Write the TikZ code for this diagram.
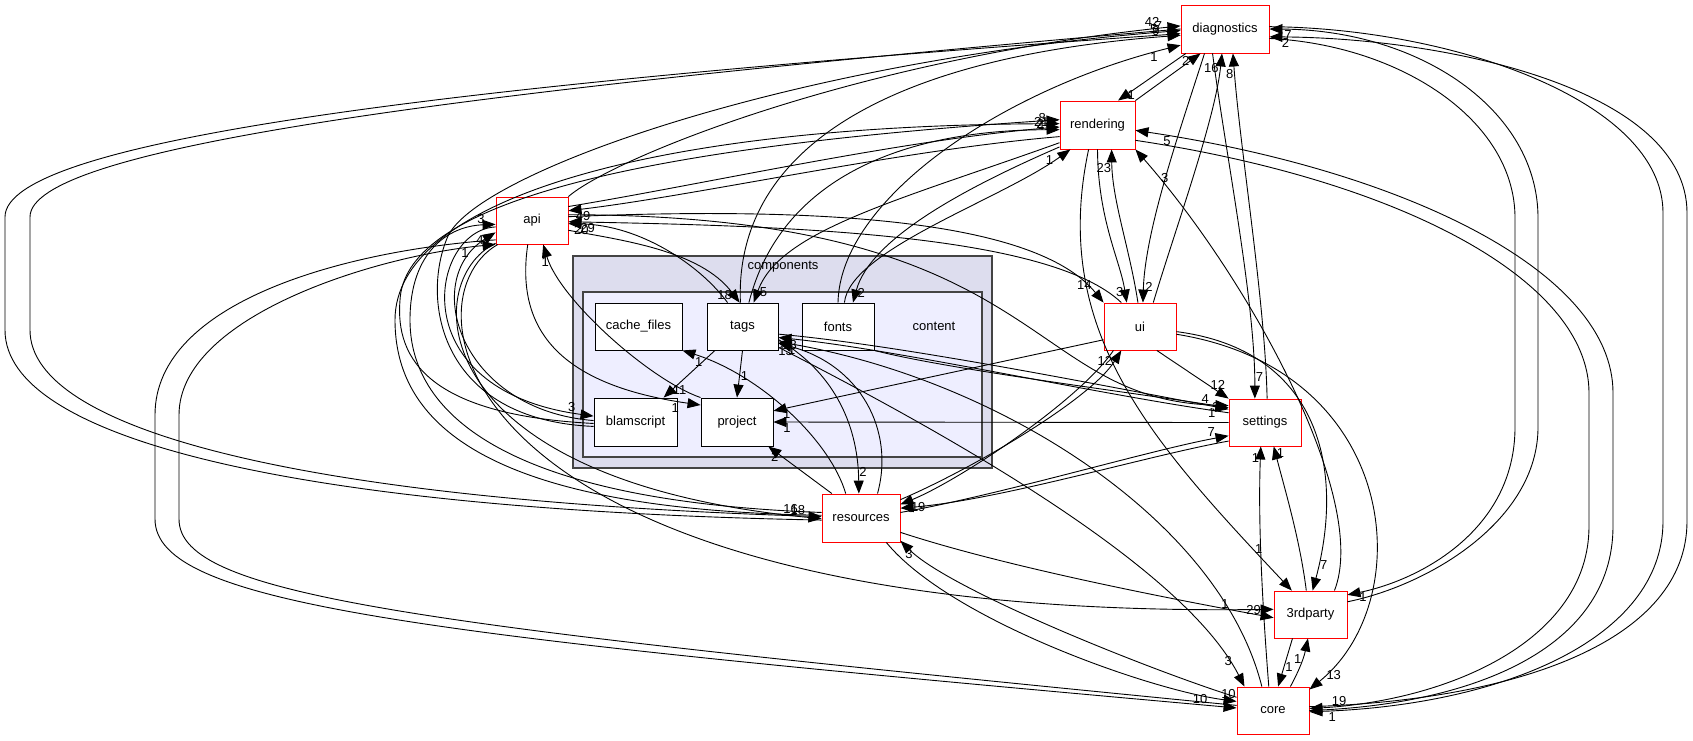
\documentclass[tikz,border=0pt]{standalone}
\usepackage{fontspec}
\setmainfont{Liberation Sans}
\usetikzlibrary{arrows.meta, positioning}
\definecolor{clusterfill}{HTML}{DDDDEE}
\definecolor{contentfill}{HTML}{EEEEFF}
\definecolor{clusterline}{HTML}{444444}

\tikzset{
  dirbox/.style={draw=red, fill=white, line width=0.9pt, minimum width=72pt, minimum height=47pt, inner sep=0pt, font=\fontsize{13}{15}\selectfont},
  subbox/.style={dirbox, draw=black},
  dep/.style={draw=black, line width=0.9pt, -{Triangle[length=13pt, width=10pt]}},
  lbl/.style={font=\fontsize{13}{15}\selectfont, inner sep=1pt},
}

\begin{document}
\begin{tikzpicture}[x=1pt, y=-1pt]
    \useasboundingbox (0,0) rectangle (1693,740);

    % Draw the components and content clusters
    \draw[draw=clusterline, fill=clusterfill, line width=1.3pt] (573,256) rectangle (992,468);
    \node[font=\fontsize{13}{15}\selectfont] (lblcomponents) at (783,267) {components};
    \draw[draw=clusterline, fill=contentfill, line width=1.3pt] (583,292) rectangle (982,457);
    \node[font=\fontsize{13}{15}\selectfont] (lblcontent) at (934,326) {content};

    % Draw the directories
    \node[dirbox, minimum width=88pt, minimum height=48pt] (diagnostics) at (1225,29) {diagnostics};
    \node[dirbox, minimum width=75pt, minimum height=48pt] (rendering) at (1097.5,125) {rendering};
    \node[dirbox] (api) at (532,220.5) {api};
    \node[dirbox] (ui) at (1140,326.5) {ui};
    \node[dirbox] (settings) at (1265,422.5) {settings};
    \node[dirbox, minimum width=78pt, minimum height=48pt] (resources) at (861,518) {resources};
    \node[dirbox, minimum width=73pt] (thirdparty) at (1310.5,614.5) {3rdparty};
    \node[dirbox] (core) at (1273,710.5) {core};

    % Draw the sub directories of content
    \node[subbox, minimum width=87pt] (cachefiles) at (638.5,326.5) {cache\_files};
    \node[subbox, minimum width=71pt] (tags) at (742.5,326.5) {tags};
    \node[subbox] (fonts) at (838,326.5) {fonts};
    \node[subbox, minimum width=83pt, minimum height=48pt] (blamscript) at (635.5,422) {blamscript};
    \node[subbox, minimum height=48pt] (project) at (737,422) {project};

    % Far left loops between resources and diagnostics
    \draw[dep] (resources.183) .. controls (300,510) and (5,440) .. (5,330) -- (5,217) .. controls (5,140) and (450,85) .. (diagnostics.186) node[lbl, pos=.99, above left] {5};
    \draw[dep] (diagnostics.180) .. controls (450,92) and (30,148) .. (30,217) -- (30,330) .. controls (30,430) and (300,500) .. (resources.178) node[lbl, pos=.98, above] {16};

    % Lower left loops between api and core
    \draw[dep] (api.208) .. controls (350,250) and (155,300) .. (155,415) -- (155,519) .. controls (155,605) and (420,635) .. (core.176) node[lbl, pos=.985, above] {10};
    \draw[dep] (core.172) .. controls (420,625) and (179,597) .. (179,519) -- (179,415) .. controls (179,315) and (380,255) .. (api.south west) node[lbl, pos=.93, below left] {1};

    % Into diagnostics from the left
    \draw[dep] (api.north east) .. controls (610,160) and (850,60) .. (diagnostics.176) node[lbl, pos=.98, above left] {42};
    \draw[dep] (tags.95) .. controls (735,170) and (850,60) .. (diagnostics.188) node[lbl, pos=.98, above left] {9};
    \draw[dep] (fonts.north) .. controls (840,200) and (1000,90) .. (diagnostics.200) node[lbl, pos=.96, below left] {1};
    \draw[dep] (blamscript.186) .. controls (440,420) and (420,300) .. (448,236) .. controls (480,170) and (800,60) .. (diagnostics.182) node[lbl, pos=.985, above left] {7};

    % rendering and diagnostics
    \draw[dep] (rendering.north east) -- (diagnostics.225) node[lbl, pos=.85, left] {2};
    \draw[dep] (diagnostics.212) -- (rendering.50) node[lbl, pos=.88, right] {1};

    % ui, settings and diagnostics
    \draw[dep] (ui.61) .. controls (1175,230) and (1215,120) .. (diagnostics.263) node[lbl, pos=.93, left] {16};
    \draw[dep] (diagnostics.230) .. controls (1180,130) and (1145,230) .. (ui.83) node[lbl, pos=.93, right] {2};
    \draw[dep] (settings.85) .. controls (1265,300) and (1240,150) .. (diagnostics.288) node[lbl, pos=.93, left] {8};
    \draw[dep] (diagnostics.243) .. controls (1225,150) and (1255,300) .. (settings.113) node[lbl, pos=.93, right] {7};

    % Far right loops
    \draw[dep] (thirdparty.19) .. controls (1430,585) and (1538,520) .. (1538,427) -- (1538,218) .. controls (1538,110) and (1420,30) .. (diagnostics.east) node[lbl, pos=.97, below right] {7};
    \draw[dep] (diagnostics.348) .. controls (1400,45) and (1515,120) .. (1515,218) -- (1515,427) .. controls (1515,530) and (1420,580) .. (thirdparty.28) node[lbl, pos=.93, below] {1};
    \draw[dep] (rendering.338) .. controls (1400,180) and (1589,280) .. (1589,393) -- (1589,526) .. controls (1589,640) and (1450,700) .. (core.3) node[lbl, pos=.95, above right] {19};
    \draw[dep] (core.east) .. controls (1470,705) and (1613,650) .. (1613,526) -- (1613,393) .. controls (1613,270) and (1400,170) .. (rendering.352) node[lbl, pos=.96, below] {5};
    \draw[dep] (core.6) .. controls (1520,700) and (1687,640) .. (1687,521) -- (1687,213) .. controls (1687,90) and (1450,38) .. (diagnostics.350) node[lbl, pos=.98, below right] {2};
    \draw[dep] (diagnostics.3) .. controls (1450,28) and (1663,100) .. (1663,213) -- (1663,521) .. controls (1663,640) and (1500,705) .. (core.358) node[lbl, pos=.96, below] {1};

    % ui, rendering and 3rdparty
    \draw[dep] (ui.348) .. controls (1400,370) and (1420,600) .. (core.30) node[lbl, pos=.95, right] {13};
    \draw[dep] (ui.352) .. controls (1320,350) and (1345,470) .. (thirdparty.85) node[lbl, pos=.93, right] {7};
    \draw[dep] (thirdparty.45) .. controls (1370,500) and (1250,280) .. (rendering.south east) node[lbl, pos=.93, right] {3};
    \draw[dep] (rendering.250) .. controls (1050,330) and (1150,440) .. (thirdparty.128) node[lbl, pos=.92, above] {1};
    \draw[dep] (ui.95) .. controls (1130,250) and (1112,200) .. (rendering.300) node[lbl, pos=.88, left] {23};
    \draw[dep] (rendering.south) .. controls (1098,220) and (1120,260) .. (ui.119) node[lbl, pos=.92, left] {3};

    % api, rendering and ui
    \draw[dep] (api.6) .. controls (850,205) and (1040,225) .. (ui.north west) node[lbl, pos=.95, above left] {14};
    \draw[dep] (ui.128) .. controls (1050,235) and (800,226) .. (api.358) node[lbl, pos=.985, below right] {29};
    \draw[dep] (rendering.197) .. controls (900,150) and (700,195) .. (api.15) node[lbl, pos=.985, below right] {49};
    \draw[dep] (api.21) .. controls (700,185) and (900,140) .. (rendering.183) node[lbl, pos=.98, above left] {21};
    \draw[dep] (resources.176) .. controls (480,510) and (395,420) .. (395,320) .. controls (395,200) and (650,125) .. (rendering.178) node[lbl, pos=.99, above left] {8};
    \draw[dep] (blamscript.182) .. controls (430,415) and (395,360) .. (400,300) .. controls (405,210) and (600,150) .. (rendering.172) node[lbl, pos=.99, below left] {4};

    % tags, fonts and rendering
    \draw[dep] (tags.75) .. controls (780,180) and (900,130) .. (rendering.187) node[lbl, pos=.97, above left] {2};
    \draw[dep] (rendering.205) .. controls (900,200) and (780,230) .. (tags.65) node[lbl, pos=.95, right] {5};
    \draw[dep] (fonts.75) .. controls (850,250) and (1000,200) .. (rendering.222) node[lbl, pos=.93, left] {1};
    \draw[dep] (rendering.210) .. controls (960,190) and (870,240) .. (fonts.58) node[lbl, pos=.95, right] {2};

    % api and tags
    \draw[dep] (api.345) .. controls (620,240) and (700,250) .. (tags.97) node[lbl, pos=.95, left] {18};
    \draw[dep] (tags.122) .. controls (700,265) and (640,225) .. (api.355) node[lbl, pos=.98, below right] {20};

    % Into and out of settings
    \draw[dep] (api.9) .. controls (1050,215) and (1020,400) .. (settings.155) node[lbl, pos=.97, above left] {4};
    \draw[dep] (tags.348) .. controls (900,345) and (1100,385) .. (settings.160) node[lbl, pos=.97, below left] {1};
    \draw[dep] (settings.165) .. controls (1100,395) and (900,350) .. (tags.343) node[lbl, pos=.97, below] {13};
    \draw[dep] (fonts.south east) .. controls (950,370) and (1150,395) .. (settings.158) node[lbl, pos=.97, left] {3};
    \draw[dep] (ui.305) -- (settings.north west) node[lbl, pos=.85, above] {12};
    \draw[dep] (resources.8) .. controls (1000,495) and (1150,450) .. (settings.200) node[lbl, pos=.95, above left] {7};
    \draw[dep] (settings.207) .. controls (1150,455) and (1000,500) .. (resources.14) node[lbl, pos=.97, right] {19};
    \draw[dep] (ui.222) .. controls (1080,400) and (960,480) .. (resources.19) node[lbl, pos=.97, below right] {3};
    \draw[dep] (resources.25) .. controls (970,470) and (1090,400) .. (ui.232) node[lbl, pos=.93, left] {12};
    \draw[dep] (core.100) .. controls (1262,600) and (1258,520) .. (settings.260) node[lbl, pos=.95, left] {1};
    \draw[dep] (thirdparty.100) .. controls (1300,540) and (1285,490) .. (settings.290) node[lbl, pos=.95, right] {1};

    % Into project, blamscript and cache_files
    \draw[dep] (settings.west) -- (project.east) node[lbl, pos=.97, below] {1};
    \draw[dep] (ui.200) -- (project.17) node[lbl, pos=.96, below] {1};
    \draw[dep] (tags.south) -- (project.north) node[lbl, pos=.55, right] {1};
    \draw[dep] (tags.221) -- (blamscript.41) node[lbl, pos=.85, right] {11};
    \draw[dep] (resources.140) -- (project.322) node[lbl, pos=.9, below] {2};
    \draw[dep] (resources.122) .. controls (830,440) and (760,375) .. (cachefiles.south east) node[lbl, pos=.93, below] {1};
    \draw[dep] (api.260) .. controls (515,330) and (560,385) .. (project.155) node[lbl, pos=.95, below left] {1};
    \draw[dep] (project.north west) .. controls (650,380) and (560,300) .. (api.295) node[lbl, pos=.9, left] {1};

    % tags, resources and core
    \draw[dep] (tags.340) .. controls (830,370) and (858,420) .. (resources.95) node[lbl, pos=.9, right] {2};
    \draw[dep] (resources.56) .. controls (895,430) and (860,365) .. (tags.335) node[lbl, pos=.97, below] {13};
    \draw[dep] (tags.330) .. controls (920,420) and (1180,560) .. (core.140) node[lbl, pos=.95, above left] {3};
    \draw[dep] (core.115) .. controls (1220,520) and (1000,380) .. (tags.337) node[lbl, pos=.98, below] {1};
    \draw[dep] (resources.316) .. controls (950,620) and (1150,690) .. (core.166) node[lbl, pos=.97, above] {10};
    \draw[dep] (core.160) .. controls (1150,670) and (950,590) .. (resources.330) node[lbl, pos=.95, below] {3};

    % 3rdparty
    \draw[dep] (resources.340) .. controls (1000,565) and (1150,595) .. (thirdparty.185) node[lbl, pos=.97, above left] {29};
    \draw[dep] (api.215) .. controls (400,300) and (450,620) .. (thirdparty.172) node[lbl, pos=.98, above] {1};
    \draw[dep] (thirdparty.233) -- (core.78) node[lbl, pos=.6, right] {1};
    \draw[dep] (core.54) to[bend right=8] node[lbl, pos=.6, left] {1} (thirdparty.264);

    % api, blamscript and resources
    \draw[dep] (resources.172) .. controls (480,500) and (410,400) .. (410,320) .. controls (410,250) and (450,226) .. (api.186) node[lbl, pos=.93, above left] {3};
    \draw[dep] (api.212) .. controls (420,280) and (420,480) .. (resources.181) node[lbl, pos=.98, above] {18};
    \draw[dep] (api.190) .. controls (430,230) and (400,390) .. (blamscript.172) node[lbl, pos=.97, above left] {3};
    \draw[dep] (blamscript.178) .. controls (460,410) and (420,280) .. (api.198) node[lbl, pos=.95, left] {4};
\end{tikzpicture}
\end{document}
